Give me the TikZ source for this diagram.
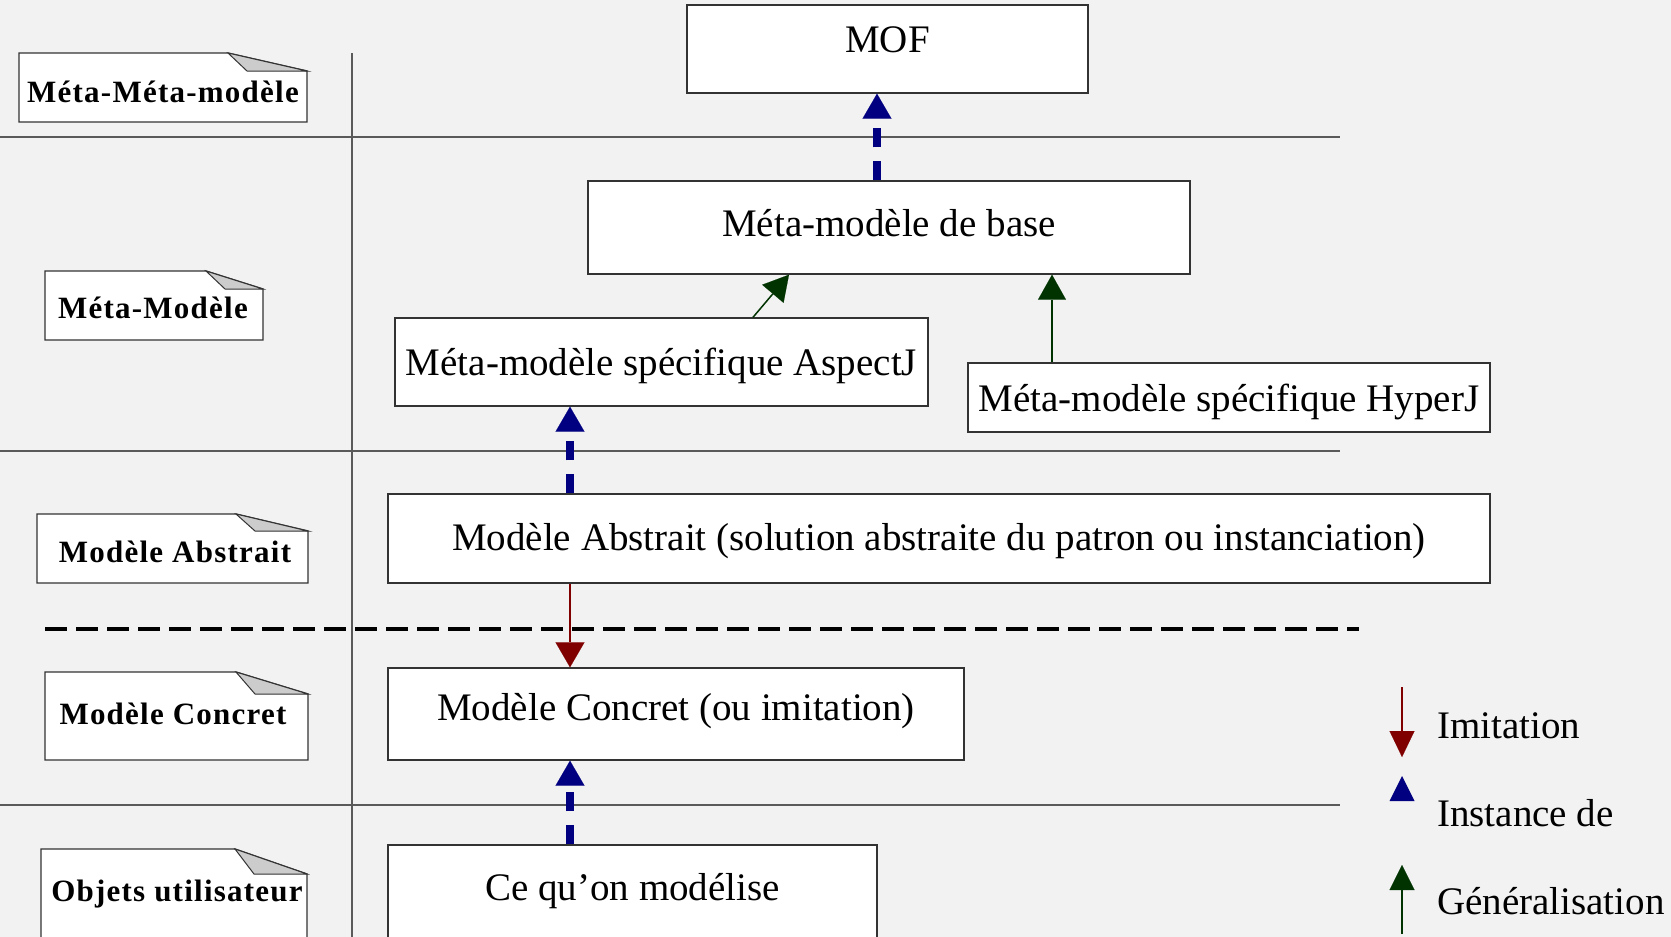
\documentclass[tikz,border=0pt]{standalone}
\usepackage{fontspec}
\setmainfont{Liberation Serif}
\newfontfamily\notefont{Liberation Serif}[LetterSpace=4.0]
\usetikzlibrary{arrows.meta}

\definecolor{paper}{HTML}{F2F2F2}
\definecolor{instblue}{HTML}{000080}
\definecolor{imitred}{HTML}{800000}
\definecolor{genergreen}{HTML}{003300}
\definecolor{rulegray}{HTML}{5A5A5A}
\definecolor{foldgray}{HTML}{CCCCCC}
\definecolor{edgegray}{HTML}{333333}

\tikzset{
  box/.style={draw=edgegray, line width=1.4pt, fill=white, inner sep=0pt},
  boxtext/.style={anchor=base, inner sep=0pt, font=\fontsize{39pt}{45pt}\selectfont},
  notetext/.style={anchor=base, inner sep=0pt, font=\notefont\bfseries\fontsize{31pt}{36pt}\selectfont},
  legendtext/.style={anchor=base west, inner sep=0pt, font=\fontsize{39pt}{45pt}\selectfont},
  layerrule/.style={draw=rulegray, line width=1.5pt},
  levelsplit/.style={draw=black, line width=4.5pt, dash pattern=on 22pt off 9pt},
  notebody/.style={draw=edgegray, line width=1.4pt, fill=white},
  notefold/.style={draw=edgegray, line width=1pt, fill=foldgray},
  instance/.style={color=instblue, line width=8pt, dash pattern=on 19pt off 14pt,
    -{Triangle[width=29pt,length=25pt,line width=0.1pt]}},
  imitation/.style={color=imitred, line width=1.5pt,
    -{Triangle[width=29pt,length=25pt,line width=0.1pt]}},
  generalise/.style={color=genergreen, line width=1.5pt,
    -{Triangle[width=28pt,length=25pt,line width=0.1pt]}},
}

% folded-corner note: x1 y1 x2 y2 foldx foldy
\newcommand\dognote[6]{%
  \path[notebody] (#1,#2) -- (#5,#2) -- (#3,#6) -- (#3,#4) -- (#1,#4) -- cycle;
  \path[notefold] (#5,#2) -- ({#5+19},#6) -- (#3,#6) -- cycle;
}

\begin{document}
\begin{tikzpicture}[x=1pt,y=-1pt]
\useasboundingbox (0,0) rectangle (1671,937);
\clip (0,0) rectangle (1671,937);
\fill[paper] (0,0) rectangle (1671,937);

% layer separators
\coordinate (r1a) at (0,137);   \coordinate (r1b) at (1340,137);
\coordinate (r2a) at (0,451);   \coordinate (r2b) at (1340,451);
\coordinate (r3a) at (0,805);   \coordinate (r3b) at (1340,805);
\coordinate (vtop) at (352,53); \coordinate (vbot) at (352,940);
\coordinate (da) at (45,629);   \coordinate (db) at (1359,629);
\draw[layerrule] (r1a) -- (r1b);
\draw[layerrule] (r2a) -- (r2b);
\draw[layerrule] (r3a) -- (r3b);
\draw[layerrule] (vtop) -- (vbot);
\draw[levelsplit] (da) -- (db);

% model boxes
\node[box, minimum width=401pt, minimum height=88pt]  (mof)  at (887.5,49)   {};
\node[box, minimum width=602pt, minimum height=93pt]  (base) at (889,227.5)  {};
\node[box, minimum width=533pt, minimum height=88pt]  (asp)  at (661.5,362)  {};
\node[box, minimum width=522pt, minimum height=69pt]  (hyp)  at (1229,397.5) {};
\node[box, minimum width=1102pt, minimum height=89pt] (abs)  at (939,538.5)  {};
\node[box, minimum width=576pt, minimum height=92pt]  (con)  at (676,714)    {};
\node[box, minimum width=489pt, minimum height=115pt] (ceq)  at (632.5,902.5) {};

\node[boxtext] (mofT)  at (887.5,52)  {MOF};
\node[boxtext] (baseT) at (889,236)   {Méta-modèle de base};
\node[boxtext] (aspT)  at (661.5,375) {Méta-modèle spécifique AspectJ};
\node[boxtext] (hypT)  at (1229,411)  {Méta-modèle spécifique HyperJ};
\node[boxtext] (absT)  at (939,550)   {Modèle Abstrait (solution abstraite du patron ou instanciation)};
\node[boxtext] (conT)  at (676,720)   {Modèle Concret (ou imitation)};
\node[boxtext] (ceqT)  at (632.5,900) {Ce qu’on modélise};

% connector columns
\coordinate (colM) at (877,0);
\coordinate (colA) at (570,0);
\coordinate (colG1) at (753,0);
\coordinate (colG2) at (789,0);
\coordinate (colH) at (1052,0);

\draw[instance] (base.north -| colM) -- (mof.south -| colM);
\draw[instance] (abs.north -| colA) -- (asp.south -| colA);
\draw[instance] (ceq.north -| colA) -- (con.south -| colA);
\draw[imitation] (abs.south -| colA) -- (con.north -| colA);
\draw[generalise] (asp.north -| colG1) -- (base.south -| colG2);
\draw[generalise] (hyp.north -| colH) -- (base.south -| colH);

% level notes
\dognote{19}{53}{307}{122}{228}{71}
\dognote{45}{271}{263}{340}{206}{289}
\dognote{37}{514}{308}{583}{236}{531}
\dognote{45}{672}{308}{760}{236}{694}
\dognote{41}{849}{307}{960}{235}{874}

\node[notetext] (n1) at (163,102) {Méta-Méta-modèle};
\node[notetext] (n2) at (153,318) {Méta-Modèle};
\node[notetext] (n3) at (175,562) {Modèle Abstrait};
\node[notetext] (n4) at (173,724) {Modèle Concret};
\node[notetext] (n5) at (177,901) {Objets utilisateur};

% legend
\coordinate (imA) at (1402,687);
\coordinate (imB) at (1402,757);
\draw[color=imitred, line width=1.5pt, -{Triangle[width=25pt,length=26pt,line width=0.1pt]}] (imA) -- (imB);
\fill[instblue] (1389.5,801) -- (1402,776) -- (1414.5,801) -- cycle;
\coordinate (gnA) at (1402,934);
\coordinate (gnB) at (1402,865);
\draw[color=genergreen, line width=1.5pt, -{Triangle[width=25pt,length=25pt,line width=0.1pt]}] (gnA) -- (gnB);

\node[legendtext] (lg1) at (1437,738) {Imitation};
\node[legendtext] (lg2) at (1437,826) {Instance de};
\node[legendtext] (lg3) at (1437,914) {Généralisation};
\end{tikzpicture}
\end{document}
